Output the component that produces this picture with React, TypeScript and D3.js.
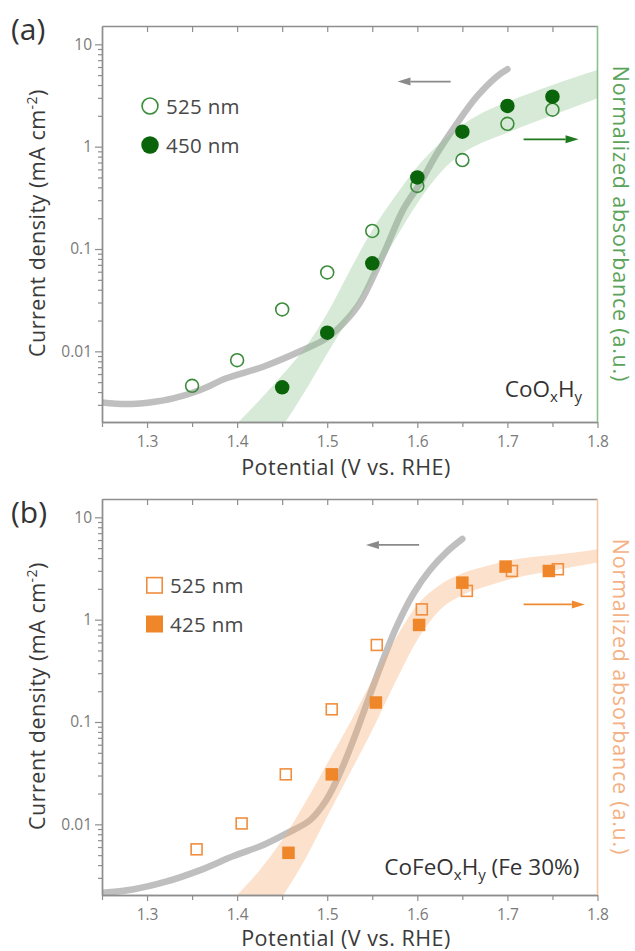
import React, { useEffect, useRef } from 'react';
import * as d3 from 'd3';

// ---- panel (a): CoOxHy ----
// absorbance markers (right axis, drawn on the same log scale)
const potA525 = [1.35, 1.40, 1.45, 1.50, 1.55, 1.60, 1.65, 1.70, 1.75];
const absA525 = [0.0046, 0.0082, 0.0257, 0.059, 0.150, 0.413, 0.74, 1.67, 2.30];
const potA450 = [1.45, 1.50, 1.55, 1.60, 1.65, 1.70, 1.75];
const absA450 = [0.00445, 0.0152, 0.0724, 0.50, 1.40, 2.50, 3.08];
// current density trace
const potJA = [1.25, 1.277, 1.303, 1.329, 1.359, 1.388, 1.429, 1.473, 1.499, 1.518, 1.536, 1.551, 1.566, 1.584, 1.603, 1.622, 1.644, 1.666, 1.688, 1.70];
const curJA = [0.00317, 0.00305, 0.00317, 0.00347, 0.00419, 0.00545, 0.00708, 0.0103, 0.0134, 0.0188, 0.0295, 0.0536, 0.105, 0.24, 0.439, 0.861, 1.69, 3.08, 4.83, 5.71];
// shaded guide band
const bandX = [1.40, 1.425, 1.45, 1.475, 1.50, 1.525, 1.55, 1.575, 1.60, 1.625, 1.65, 1.675, 1.70, 1.725, 1.75, 1.775, 1.80];
const bandHiA = [0.00198, 0.00334, 0.00586, 0.0107, 0.0235, 0.0614, 0.153, 0.324, 0.637, 1.08, 1.63, 2.20, 2.75, 3.33, 4.01, 4.77, 5.62];
const bandLoA = [0.00041, 0.00087, 0.00183, 0.00403, 0.00955, 0.0218, 0.0517, 0.1225, 0.28, 0.55, 0.86, 1.12, 1.37, 1.67, 2.04, 2.46, 2.97];

// ---- panel (b): CoFeOxHy (Fe 30%) ----
const potB525 = [1.355, 1.405, 1.454, 1.505, 1.555, 1.605, 1.655, 1.705, 1.756];
const absB525 = [0.0057, 0.0102, 0.0308, 0.133, 0.566, 1.26, 1.91, 2.99, 3.11];
const potB425 = [1.457, 1.505, 1.554, 1.602, 1.650, 1.698, 1.746];
const absB425 = [0.00527, 0.0308, 0.155, 0.888, 2.30, 3.30, 2.99];
const potJB = [1.25, 1.284, 1.321, 1.359, 1.396, 1.429, 1.455, 1.481, 1.499, 1.514, 1.529, 1.544, 1.559, 1.577, 1.596, 1.614, 1.633, 1.65];
const curJB = [0.00214, 0.00231, 0.00275, 0.00357, 0.0049, 0.00628, 0.00817, 0.011, 0.0173, 0.0315, 0.0667, 0.152, 0.347, 0.855, 1.81, 3.06, 4.62, 6.15];
const bandHiB = [0.00204, 0.00357, 0.00703, 0.016, 0.0394, 0.097, 0.257, 0.634, 1.39, 2.18, 2.84, 3.30, 3.77, 4.07, 4.29, 4.52, 4.88];
const bandLoB = [0.00051, 0.001, 0.00196, 0.00448, 0.0119, 0.0315, 0.0836, 0.239, 0.634, 1.24, 1.74, 2.10, 2.44, 2.74, 3.01, 3.30, 3.61];

// ---- axes ----
const xMajor = [1.3, 1.4, 1.5, 1.6, 1.7, 1.8];
const xMajorLabels = ['1.3', '1.4', '1.5', '1.6', '1.7', '1.8'];
const xMinor = [1.25, 1.35, 1.45, 1.55, 1.65, 1.75];
const yMajor = [10, 1, 0.1, 0.01];
const yMajorLabels = ['10', '1', '0.1', '0.01'];

const W = 635;
const H = 951;
const LEFT = 102;
const RIGHT = 597.5;
const PH = 396;
const FONT = '"Open Sans", "Noto Sans", sans-serif';
const AXIS = '#8e8e8e';
const TITLE_SIZE = 21.5;

const panels = [
  {
    top: 26,
    label: '(a)', labelY: 40,
    jx: potJA, jy: curJA,
    bandHi: bandHiA, bandLo: bandLoA,
    bandFill: 'rgb(140,195,140)',
    rightLine: '#8cc08c', rightText: '#5aa35a',
    shape: 'circle',
    openColor: '#3b8c3b', fillColor: '#0a640a',
    open: { x: potA525, y: absA525, name: '525 nm' },
    filled: { x: potA450, y: absA450, name: '450 nm' },
    legend: { mx: 150, tx: 166, y1: 106, y2: 145 },
    grayArrow: { from: 1.637, to: 1.578, at: 4.32 },
    colorArrow: { from: 1.718, to: 1.779, at: 1.18 },
    arrowColor: '#1f7a1f',
    note: [['CoO', ''], ['x', 'sub'], ['H', ''], ['y', 'sub']],
    noteX: 582, noteY: 396.7,
    titleDy: 53,
  },
  {
    top: 499,
    label: '(b)', labelY: 523,
    jx: potJB, jy: curJB,
    bandHi: bandHiB, bandLo: bandLoB,
    bandFill: 'rgb(245,168,108)',
    rightLine: '#f6c7a2', rightText: '#f4b185',
    shape: 'square',
    openColor: '#f08e3e', fillColor: '#f0862a',
    open: { x: potB525, y: absB525, name: '525 nm' },
    filled: { x: potB425, y: absB425, name: '425 nm' },
    legend: { mx: 154.5, tx: 170, y1: 585.3, y2: 624 },
    grayArrow: { from: 1.602, to: 1.543, at: 5.37 },
    colorArrow: { from: 1.718, to: 1.786, at: 1.41 },
    arrowColor: '#f08a30',
    note: [['CoFeO', ''], ['x', 'sub'], ['H', ''], ['y', 'sub'], [' (Fe 30%)', '']],
    noteX: 579.3, noteY: 875,
    titleDy: 51,
  },
];

function marker(g, shape, cx, cy, size, open, color) {
  if (shape === 'circle') {
    g.append('circle')
      .attr('cx', cx).attr('cy', cy).attr('r', open ? size / 2 - 0.8 : size / 2)
      .attr('fill', open ? 'none' : color)
      .attr('stroke', open ? color : 'none')
      .attr('stroke-width', 1.6);
  } else {
    const s = open ? size - 1.6 : size;
    g.append('rect')
      .attr('x', cx - s / 2).attr('y', cy - s / 2).attr('width', s).attr('height', s)
      .attr('fill', open ? 'none' : color)
      .attr('stroke', open ? color : 'none')
      .attr('stroke-width', 1.6);
  }
}

function arrow(g, x, y, a, color) {
  const xt = x(a.from);
  const xh = x(a.to);
  const yy = y(a.at);
  const dir = Math.sign(xh - xt);
  const hl = 13;
  g.append('line')
    .attr('x1', xt).attr('x2', xh - dir * hl).attr('y1', yy).attr('y2', yy)
    .attr('stroke', color).attr('stroke-width', 1.8);
  g.append('path')
    .attr('d', `M${xh},${yy}L${xh - dir * hl},${yy - 4}L${xh - dir * hl},${yy + 4}Z`)
    .attr('fill', color);
}

function styleAxis(sel) {
  sel.selectAll('path').attr('stroke', AXIS).attr('stroke-width', 1.4);
  sel.selectAll('line').attr('stroke', AXIS).attr('stroke-width', 1.2);
  sel.selectAll('text')
    .attr('fill', '#7a7a7a').attr('font-size', 15.5).attr('font-family', FONT);
  sel.attr('font-family', null).attr('font-size', null);
}

function drawPanel(svg, p, idx) {
  const top = p.top;
  const bottom = top + PH;
  const x = d3.scaleLinear().domain([1.25, 1.8]).range([LEFT, RIGHT]);
  const y = d3.scaleLog().domain([0.00204, 15.1]).range([bottom, top]);

  const clipId = `plotclip${idx}`;
  svg.append('clipPath').attr('id', clipId)
    .append('rect').attr('x', LEFT).attr('y', top).attr('width', RIGHT - LEFT).attr('height', PH);

  const g = svg.append('g');
  const plot = g.append('g').attr('clip-path', `url(#${clipId})`);

  // current density trace
  const jLine = d3.line<number>()
    .x((d) => x(d))
    .y((_, i) => y(p.jy[i]))
    .curve(d3.curveCatmullRom.alpha(0.5));
  plot.append('path')
    .attr('d', jLine(p.jx))
    .attr('fill', 'none')
    .attr('stroke', '#bfbfbf')
    .attr('stroke-width', 6.5)
    .attr('stroke-linecap', 'round');

  // shaded absorbance guide
  const band = d3.area<number>()
    .x((d) => x(d))
    .y0((_, i) => y(p.bandLo[i]))
    .y1((_, i) => y(p.bandHi[i]))
    .curve(d3.curveMonotoneX);
  plot.append('path')
    .attr('d', band(bandX))
    .attr('fill', p.bandFill)
    .attr('fill-opacity', 0.35);

  // axes
  const bottomAxis = g.append('g').attr('transform', `translate(0,${bottom})`)
    .call(d3.axisBottom(x).tickValues(xMajor).tickFormat((_, i) => xMajorLabels[i]).tickSize(6).tickSizeOuter(0).tickPadding(8));
  styleAxis(bottomAxis);
  const bottomMinor = g.append('g').attr('transform', `translate(0,${bottom})`)
    .call(d3.axisBottom(x).tickValues(xMinor).tickFormat(() => '').tickSize(5).tickSizeOuter(0));
  styleAxis(bottomMinor);

  const topAxis = g.append('g').attr('transform', `translate(0,${top})`)
    .call(d3.axisTop(x).tickValues([...xMajor.slice(0, 5), ...xMinor.slice(1)]).tickFormat(() => '').tickSize(-6).tickSizeOuter(0));
  styleAxis(topAxis);

  const yMinor: number[] = [];
  [0.001, 0.01, 0.1, 1].forEach((dec) => {
    for (let k = 2; k <= 9; k++) {
      const v = dec * k;
      if (v >= 0.00204 && v <= 15.1) yMinor.push(v);
    }
  });
  const leftAxis = g.append('g').attr('transform', `translate(${LEFT},0)`)
    .call(d3.axisLeft(y).tickValues(yMajor).tickFormat((_, i) => yMajorLabels[i]).tickSize(7).tickSizeOuter(0).tickPadding(3));
  styleAxis(leftAxis);
  const leftMinor = g.append('g').attr('transform', `translate(${LEFT},0)`)
    .call(d3.axisLeft(y).tickValues(yMinor).tickFormat(() => '').tickSize(4).tickSizeOuter(0));
  styleAxis(leftMinor);

  g.append('line')
    .attr('x1', RIGHT).attr('x2', RIGHT).attr('y1', top).attr('y2', bottom)
    .attr('stroke', p.rightLine).attr('stroke-width', 1.6);

  // markers
  const plotSize = p.shape === 'circle' ? 14.5 : 12.5;
  p.open.x.forEach((v, i) => marker(g, p.shape, x(v), y(p.open.y[i]), plotSize, true, p.openColor));
  p.filled.x.forEach((v, i) => marker(g, p.shape, x(v), y(p.filled.y[i]), plotSize, false, p.fillColor));

  // legend
  const legSize = p.shape === 'circle' ? 17.5 : 17;
  marker(g, p.shape, p.legend.mx, p.legend.y1, legSize, true, p.openColor);
  marker(g, p.shape, p.legend.mx, p.legend.y2, legSize, false, p.fillColor);
  [[p.open.name, p.legend.y1], [p.filled.name, p.legend.y2]].forEach(([name, yy]) => {
    g.append('text')
      .attr('x', p.legend.tx).attr('y', (yy as number) + 7.5)
      .attr('font-family', FONT).attr('font-size', 20.5).attr('fill', '#484848')
      .attr('letter-spacing', 0.3)
      .text(name as string);
  });

  // arrows
  arrow(g, x, y, p.grayArrow, '#8a8a8a');
  arrow(g, x, y, p.colorArrow, p.arrowColor);

  // sample name
  const note = g.append('text')
    .attr('x', p.noteX).attr('y', p.noteY)
    .attr('text-anchor', 'end')
    .attr('font-family', FONT).attr('font-size', 22.5).attr('fill', '#333');
  let shift = 0;
  p.note.forEach(([t, kind]) => {
    const target = kind === 'sub' ? 5 : 0;
    note.append('tspan')
      .attr('dy', target - shift)
      .attr('font-size', kind === 'sub' ? 15 : 22.5)
      .text(t);
    shift = target;
  });

  // panel letter
  g.append('text')
    .attr('x', 11).attr('y', p.labelY)
    .attr('font-family', FONT).attr('font-size', 30).attr('fill', '#333')
    .text(p.label);

  // axis titles
  const mid = (top + bottom) / 2;
  const yt = g.append('text')
    .attr('transform', `translate(45,${mid - 1}) rotate(-90)`)
    .attr('text-anchor', 'middle')
    .attr('font-family', FONT).attr('font-size', TITLE_SIZE).attr('fill', '#3a3a3a')
    .attr('letter-spacing', 0.5);
  yt.append('tspan').text('Current density (mA cm');
  yt.append('tspan').attr('dy', -8).attr('font-size', 14).text('-2');
  yt.append('tspan').attr('dy', 8).text(')');

  g.append('text')
    .attr('x', 346).attr('y', bottom + p.titleDy)
    .attr('text-anchor', 'middle')
    .attr('font-family', FONT).attr('font-size', TITLE_SIZE).attr('fill', '#3a3a3a')
    .attr('letter-spacing', 0.5)
    .text('Potential (V vs. RHE)');

  g.append('text')
    .attr('transform', `translate(613,${mid}) rotate(90)`)
    .attr('text-anchor', 'middle')
    .attr('font-family', FONT).attr('font-size', TITLE_SIZE).attr('fill', p.rightText)
    .attr('letter-spacing', 0.8)
    .text('Normalized absorbance (a.u.)');
}

const App = () => {
  const svgRef = useRef<SVGSVGElement>(null);

  useEffect(() => {
    const svg = d3.select(svgRef.current);
    svg.selectAll('*').remove();
    panels.forEach((p, i) => drawPanel(svg, p, i));
  }, []);

  return (
    <svg
      ref={svgRef}
      width={W}
      height={H}
      style={{ position: 'absolute', left: 0, top: 0, background: '#fff' }}
    />
  );
};

export default App;
